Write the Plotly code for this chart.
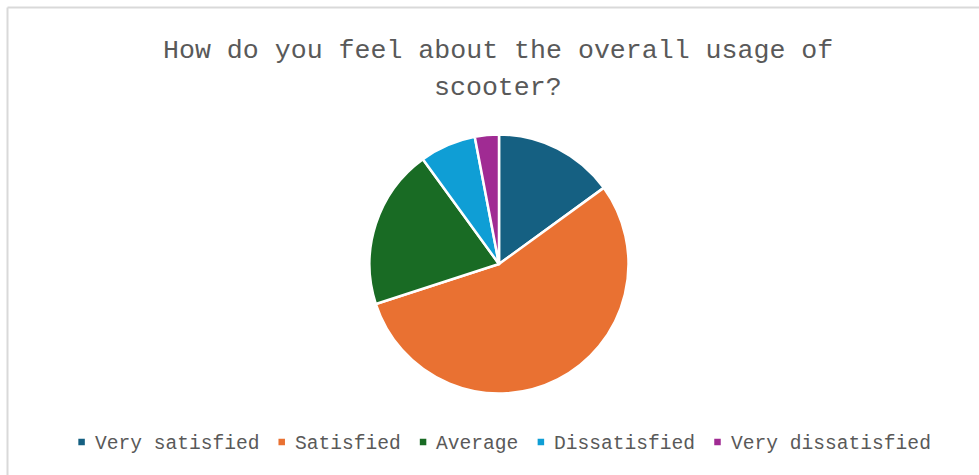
import plotly.graph_objects as go

# Survey answers and their shares (percent)
categories = ["Very satisfied", "Satisfied", "Average", "Dissatisfied", "Very dissatisfied"]
shares = [15, 55, 20, 7, 3]
colors = ["#156082", "#E97132", "#196B24", "#0F9ED5", "#A02B93"]

title_lines = ["How do you feel about the overall usage of", "scooter?"]

W, H = 979, 475
FONT = "Liberation Mono, DejaVu Sans Mono, monospace"
TEXT_COLOR = "#595959"

# pie geometry in pixels
cx, cy, r = 499, 264, 129.5

fig = go.Figure(
    go.Pie(
        labels=categories,
        values=shares,
        sort=False,
        direction="clockwise",
        rotation=0,
        marker=dict(colors=colors, line=dict(color="white", width=2.5)),
        textinfo="none",
        hoverinfo="label+percent",
        showlegend=False,
        domain=dict(
            x=[(cx - r) / W, (cx + r) / W],
            y=[(H - cy - r) / H, (H - cy + r) / H],
        ),
    )
)

annotations = []
shapes = []

# title, one annotation per line
title_size = 26.6
for i, line in enumerate(title_lines):
    annotations.append(dict(
        text=line, x=498 / W, y=1 - (50.5 + i * 37.5) / H,
        xref="paper", yref="paper", xanchor="center", yanchor="middle",
        showarrow=False, font=dict(family=FONT, size=title_size, color=TEXT_COLOR),
    ))

# legend row: small colored squares followed by monospace labels
leg_size = 19.6
char_w = leg_size * 0.6
sq = 6.5
sq_to_text = 14.5
item_gap = 21
total = sum(len(c) * char_w for c in categories) + len(categories) * sq_to_text + (len(categories) - 1) * item_gap
x = 503.5 - total / 2
leg_y = 442
for cat, col in zip(categories, colors):
    shapes.append(dict(
        type="rect", xref="paper", yref="paper",
        x0=x / W, x1=(x + sq) / W,
        y0=1 - (leg_y + sq / 2) / H, y1=1 - (leg_y - sq / 2) / H,
        fillcolor=col, line=dict(width=0),
    ))
    annotations.append(dict(
        text=cat, x=(x + sq_to_text) / W, y=1 - (leg_y + 2) / H,
        xref="paper", yref="paper", xanchor="left", yanchor="middle",
        showarrow=False, font=dict(family=FONT, size=leg_size, color=TEXT_COLOR),
    ))
    x += sq_to_text + len(cat) * char_w + item_gap

# chart-area frame (left and top edges)
bx, by = 7.5, 7.5
shapes.append(dict(type="line", xref="paper", yref="paper",
                   x0=bx / W, x1=bx / W, y0=-0.05, y1=1 - by / H,
                   line=dict(color="#D9D9D9", width=2)))
shapes.append(dict(type="line", xref="paper", yref="paper",
                   x0=bx / W, x1=1.05, y0=1 - by / H, y1=1 - by / H,
                   line=dict(color="#D9D9D9", width=2)))

fig.update_layout(
    width=W, height=H,
    margin=dict(l=0, r=0, t=0, b=0),
    paper_bgcolor="white", plot_bgcolor="white",
    annotations=annotations, shapes=shapes,
)

fig.write_html("out.html")
